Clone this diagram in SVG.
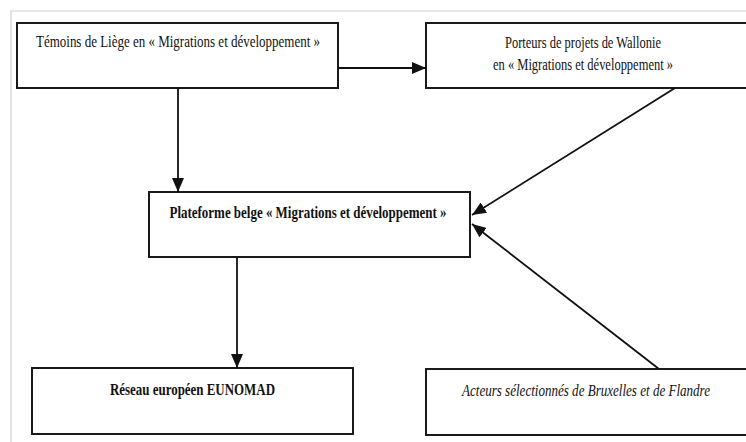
<svg xmlns="http://www.w3.org/2000/svg" width="746" height="442" viewBox="0 0 746 442">
<style>
.box{fill:#fff;stroke:#1a1a1a;stroke-width:2}
.t{font-family:"Liberation Serif","Times New Roman",serif;font-size:16px;fill:#111}
.b{font-weight:bold}
.i{font-style:italic}
.c{fill:none;stroke:#111;stroke-width:1.8}
.frame{fill:none;stroke:#d0d0d0;stroke-width:1.2}
</style>
<defs>
<marker id="ah" markerUnits="userSpaceOnUse" markerWidth="15" markerHeight="12" refX="14" refY="6" orient="auto">
<path d="M0,0 L14,6 L0,12 Z" fill="#111"/>
</marker>
</defs>
<rect width="746" height="442" fill="#fff"/>
<path class="frame" d="M11,442 V11 H746"/>
<g id="n1">
<rect class="box" x="17" y="23" width="321" height="65"/>
<text class="t" x="178" y="47" text-anchor="middle" textLength="284" lengthAdjust="spacingAndGlyphs">Témoins de Liège en « Migrations et développement »</text>
</g>
<g id="n2">
<rect class="box" x="426" y="23" width="321" height="65"/>
<text class="t" x="583" y="48" text-anchor="middle" textLength="156" lengthAdjust="spacingAndGlyphs">Porteurs de projets de Wallonie</text>
<text class="t" x="583" y="70" text-anchor="middle" textLength="180" lengthAdjust="spacingAndGlyphs">en « Migrations et développement »</text>
</g>
<g id="n3">
<rect class="box" x="149" y="192" width="321" height="65"/>
<text class="t b" x="308" y="218" text-anchor="middle" textLength="277" lengthAdjust="spacingAndGlyphs">Plateforme belge « Migrations et développement »</text>
</g>
<g id="n4">
<rect class="box" x="32" y="368" width="321" height="66"/>
<text class="t b" x="192.5" y="395" text-anchor="middle" textLength="165" lengthAdjust="spacingAndGlyphs">Réseau européen EUNOMAD</text>
</g>
<g id="n5">
<rect class="box" x="426" y="369" width="321" height="66"/>
<text class="t i" x="586" y="396" text-anchor="middle" textLength="248" lengthAdjust="spacingAndGlyphs">Acteurs sélectionnés de Bruxelles et de Flandre</text>
</g>
<g id="connectors">
<line class="c" x1="338" y1="68" x2="426" y2="68" marker-end="url(#ah)"/>
<line class="c" x1="178" y1="88" x2="178" y2="192" marker-end="url(#ah)"/>
<line class="c" x1="237" y1="257" x2="237" y2="368" marker-end="url(#ah)"/>
<line class="c" x1="675" y1="88" x2="472" y2="215" marker-end="url(#ah)"/>
<line class="c" x1="659" y1="369" x2="472" y2="224" marker-end="url(#ah)"/>
</g>
</svg>
